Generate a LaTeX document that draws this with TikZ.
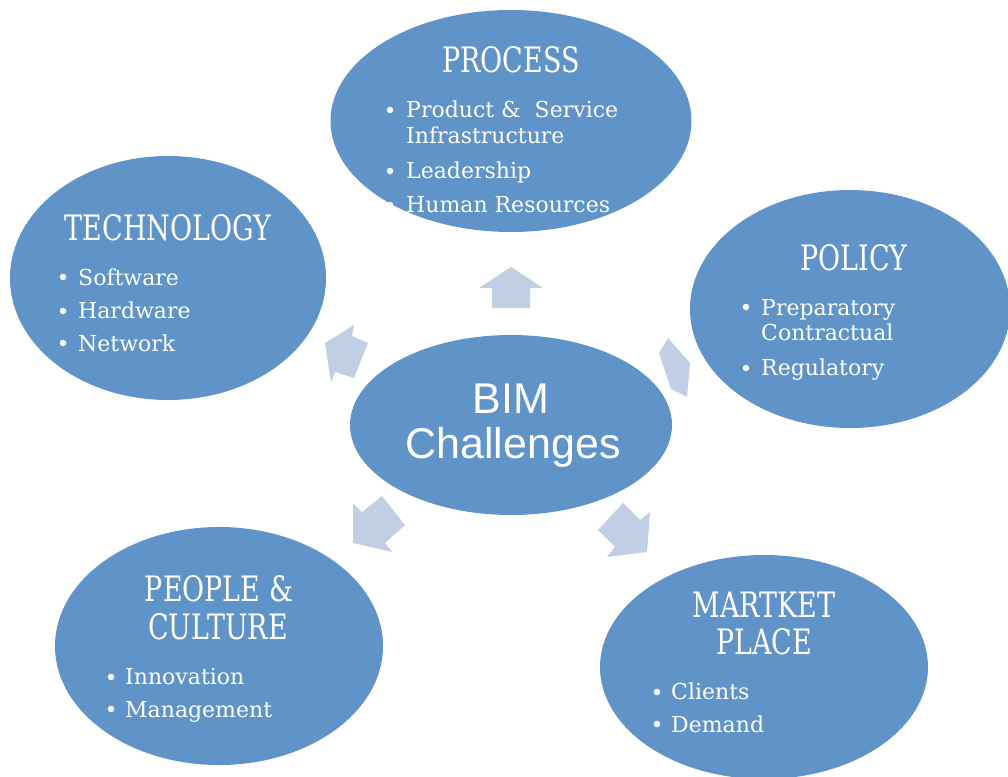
\documentclass[tikz,border=0pt]{standalone}
\usepackage{fontspec}
\setmainfont{DejaVu Serif}
\newfontfamily\headfont[FakeStretch=0.77]{DejaVu Serif}
\newfontfamily\bimfont{Liberation Sans}
\usetikzlibrary{shapes.geometric}
\definecolor{ellblue}{RGB}{96,148,200}
\definecolor{arrblue}{RGB}{192,207,227}
\begin{document}
\begin{tikzpicture}[x=1pt,y=-1pt,
  bubble/.style={ellipse, fill=ellblue, draw=none, inner sep=0pt},
  head/.style={anchor=base, text=white, font=\headfont\fontsize{35}{35}\selectfont, inner sep=0pt},
  item/.style={anchor=base west, text=white, font=\fontsize{22}{22}\selectfont, inner sep=0pt},
  dot/.style={circle, fill=white, minimum size=6.5pt, inner sep=0pt},
  bim/.style={anchor=base, text=white, font=\bimfont\fontsize{43}{43}\selectfont, inner sep=0pt},
  blockarrow/.style={fill=arrblue, draw=none}]
\useasboundingbox (0,0) rectangle (1008,776);
\clip (0,0) rectangle (1008,776);

% ellipses
\node[bubble, minimum width=361pt, minimum height=222pt] (process) at (511,121) {};
\node[bubble, minimum width=316pt, minimum height=244pt] (tech) at (168,278) {};
\node[bubble, minimum width=320pt, minimum height=238pt] (policy) at (850,309) {};
\node[bubble, minimum width=322pt, minimum height=180pt] (bimell) at (511,425) {};
\node[bubble, minimum width=328pt, minimum height=238pt] (people) at (219,646) {};
\node[bubble, minimum width=328pt, minimum height=224pt] (market) at (764,667) {};

% arrows
\fill[blockarrow] (511,267) -- (543,288) -- (530,288) -- (530,308) -- (492,308) -- (492,288) -- (479,288) -- cycle;
\fill[blockarrow] (325,343) -- (354,325) -- (352,336) -- (368,343) -- (354,378) -- (335,372) -- (331,382) -- cycle;
\fill[blockarrow] (668,338) -- (690,363) -- (687,397) -- (671,389) -- (659,353) -- cycle;
\fill[blockarrow] (353,503) -- (362,512) -- (382,496) -- (405,525) -- (385,543) -- (392,552) -- (353,543) -- cycle;
\fill[blockarrow] (623,503) -- (640,520) -- (650,512) -- (647,552) -- (607,557) -- (615,547) -- (598,530) -- cycle;

% center
\node[bim] (bim1) at (511,413) {BIM};
\node[bim] (bim2) at (513,458) {Challenges};

% PROCESS
\node[head] (h1) at (511,72) {PROCESS};
\node[dot] (d11) at (390,110) {};
\node[item] (t11) at (406,117) {Product \&\ \ Service};
\node[item] (t12) at (406,143) {Infrastructure};
\node[dot] (d12) at (390,171) {};
\node[item] (t13) at (406,178) {Leadership};
\node[dot] (d13) at (390,205) {};
\node[item] (t14) at (406,212) {Human Resources};

% TECHNOLOGY
\node[head] (h2) at (168,240) {TECHNOLOGY};
\node[dot] (d21) at (63,277) {};
\node[item] (t21) at (78,285) {Software};
\node[dot] (d22) at (63,311) {};
\node[item] (t22) at (78,318) {Hardware};
\node[dot] (d23) at (63,343) {};
\node[item] (t23) at (78,351) {Network};

% POLICY
\node[head] (h3) at (854,270) {POLICY};
\node[dot] (d31) at (746,307) {};
\node[item] (t31) at (761,315) {Preparatory};
\node[item] (t32) at (761,340) {Contractual};
\node[dot] (d32) at (746,368) {};
\node[item] (t33) at (761,375) {Regulatory};

% PEOPLE & CULTURE
\node[head] (h41) at (219,601) {PEOPLE \&};
\node[head] (h42) at (218,639) {CULTURE};
\node[dot] (d41) at (111,677) {};
\node[item] (t41) at (125,684) {Innovation};
\node[dot] (d42) at (111,709) {};
\node[item] (t42) at (125,717) {Management};

% MARKET PLACE
\node[head] (h51) at (764,617) {MARTKET};
\node[head] (h52) at (764,654) {PLACE};
\node[dot] (d51) at (657,692) {};
\node[item] (t51) at (671,699) {Clients};
\node[dot] (d52) at (657,724) {};
\node[item] (t52) at (671,732) {Demand};
\end{tikzpicture}
\end{document}
